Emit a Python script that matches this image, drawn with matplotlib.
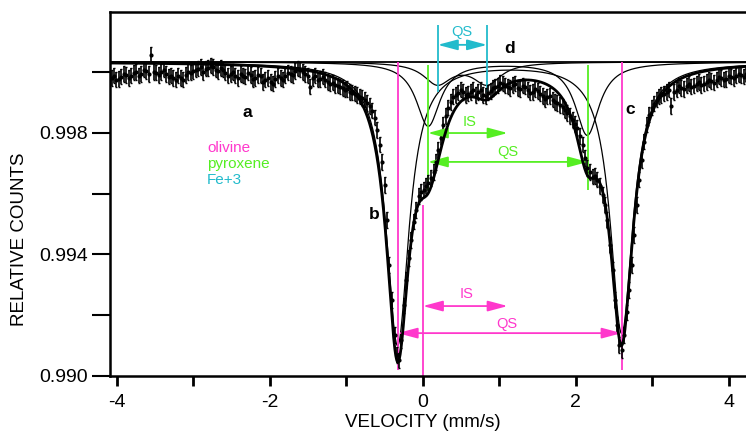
import numpy as np
import matplotlib.pyplot as plt

plt.rcParams['font.family'] = ['Liberation Sans', 'DejaVu Sans']
plt.rcParams['axes.unicode_minus'] = False

# measured spectrum: velocity (mm/s), relative counts
vel = [-4.07, -4.04, -4.01, -3.975, -3.94, -3.91, -3.88, -3.845, -3.81, -3.78,
       -3.75, -3.715, -3.68, -3.65, -3.62, -3.585, -3.55, -3.52, -3.49, -3.455,
       -3.42, -3.39, -3.36, -3.325, -3.29, -3.26, -3.23, -3.195, -3.16, -3.13,
       -3.10, -3.065, -3.03, -3.00, -2.97, -2.935, -2.90, -2.87, -2.84, -2.805,
       -2.77, -2.74, -2.71, -2.675, -2.64, -2.61, -2.58, -2.545, -2.51, -2.48,
       -2.45, -2.415, -2.38, -2.35, -2.32, -2.285, -2.25, -2.22, -2.19, -2.155,
       -2.12, -2.09, -2.06, -2.025, -1.99, -1.96, -1.93, -1.895, -1.86, -1.83,
       -1.80, -1.765, -1.73, -1.70, -1.67, -1.635, -1.60, -1.57, -1.54, -1.505,
       -1.47, -1.44, -1.41, -1.375, -1.34, -1.31, -1.28, -1.245, -1.21, -1.18,
       -1.15, -1.115, -1.08, -1.05, -1.02, -0.985, -0.95, -0.92, -0.89, -0.855,
       -0.82, -0.79, -0.76, -0.725, -0.69, -0.66, -0.63, -0.595, -0.56, -0.53,
       -0.50, -0.47, -0.44, -0.405, -0.37, -0.34, -0.31, -0.28, -0.25, -0.215,
       -0.18, -0.15, -0.12, -0.085, -0.05, -0.02, 0.01, 0.04, 0.07, 0.105,
       0.14, 0.17, 0.20, 0.235, 0.27, 0.30, 0.33, 0.365, 0.40, 0.43,
       0.46, 0.495, 0.53, 0.56, 0.59, 0.625, 0.66, 0.69, 0.72, 0.755,
       0.79, 0.82, 0.85, 0.885, 0.92, 0.95, 0.98, 1.015, 1.05, 1.08,
       1.11, 1.145, 1.18, 1.21, 1.24, 1.275, 1.31, 1.34, 1.37, 1.405,
       1.44, 1.47, 1.50, 1.535, 1.57, 1.60, 1.63, 1.665, 1.70, 1.73,
       1.76, 1.795, 1.83, 1.86, 1.89, 1.925, 1.96, 1.99, 2.02, 2.055,
       2.09, 2.12, 2.15, 2.185, 2.22, 2.25, 2.28, 2.315, 2.35, 2.38,
       2.41, 2.445, 2.48, 2.51, 2.54, 2.57, 2.60, 2.635, 2.67, 2.70,
       2.73, 2.765, 2.80, 2.83, 2.86, 2.895, 2.93, 2.96, 2.99, 3.025,
       3.06, 3.09, 3.12, 3.155, 3.19, 3.22, 3.25, 3.285, 3.32, 3.35,
       3.38, 3.415, 3.45, 3.48, 3.51, 3.545, 3.58, 3.61, 3.64, 3.675,
       3.71, 3.74, 3.77, 3.805, 3.84, 3.87, 3.90, 3.935, 3.97, 4.00,
       4.03, 4.065, 4.10, 4.13, 4.16, 4.195, 4.23]
counts = [0.99980, 0.99987, 0.99974, 0.99977, 0.99984, 0.99993, 0.99990, 0.99980, 0.99987, 0.99997,
          1.00000, 0.99987, 0.99993, 1.00007, 1.00003, 0.99993, 1.00056, 1.00000, 0.99997, 0.99990,
          1.00000, 1.00007, 0.99993, 0.99984, 0.99987, 0.99980, 0.99974, 0.99987, 0.99980, 0.99974,
          0.99990, 1.00000, 0.99997, 1.00003, 1.00007, 1.00010, 1.00016, 1.00000, 1.00010, 1.00013,
          1.00020, 1.00016, 1.00007, 1.00003, 1.00013, 1.00007, 0.99997, 0.99987, 0.99993, 1.00000,
          0.99987, 0.99980, 0.99993, 0.99987, 0.99984, 0.99997, 0.99990, 0.99977, 0.99980, 0.99990,
          0.99987, 0.99967, 0.99974, 0.99980, 0.99967, 0.99961, 0.99977, 0.99987, 0.99980, 0.99974,
          0.99987, 0.99997, 0.99993, 0.99990, 1.00003, 1.00010, 1.00007, 1.00000, 0.99993, 0.99987,
          0.99951, 0.99980, 0.99987, 0.99974, 0.99977, 0.99984, 0.99974, 0.99967, 0.99961, 0.99964,
          0.99957, 0.99954, 0.99951, 0.99947, 0.99941, 0.99944, 0.99934, 0.99931, 0.99928, 0.99924,
          0.99918, 0.99914, 0.99908, 0.99898, 0.99888, 0.99872, 0.99849, 0.99809, 0.99760, 0.99704,
          0.99628, 0.99513, 0.99365, 0.99250, 0.99135, 0.99069, 0.99052, 0.99118, 0.99233, 0.99316,
          0.99388, 0.99447, 0.99507, 0.99546, 0.99592, 0.99605, 0.99612, 0.99625, 0.99635, 0.99651,
          0.99671, 0.99704, 0.99743, 0.99783, 0.99826, 0.99855, 0.99882, 0.99901, 0.99918, 0.99924,
          0.99931, 0.99941, 0.99934, 0.99924, 0.99928, 0.99934, 0.99941, 0.99924, 0.99934, 0.99941,
          0.99924, 0.99921, 0.99931, 0.99937, 0.99947, 0.99951, 0.99954, 0.99964, 0.99961, 0.99954,
          0.99951, 0.99947, 0.99957, 0.99961, 0.99947, 0.99944, 0.99954, 0.99951, 0.99941, 0.99931,
          0.99934, 0.99944, 0.99937, 0.99928, 0.99921, 0.99911, 0.99918, 0.99921, 0.99908, 0.99901,
          0.99898, 0.99891, 0.99885, 0.99875, 0.99865, 0.99855, 0.99842, 0.99829, 0.99816, 0.99789,
          0.99760, 0.99717, 0.99684, 0.99671, 0.99655, 0.99658, 0.99645, 0.99625, 0.99595, 0.99562,
          0.99513, 0.99431, 0.99349, 0.99250, 0.99168, 0.99102, 0.99085, 0.99135, 0.99210, 0.99283,
          0.99365, 0.99464, 0.99562, 0.99645, 0.99710, 0.99770, 0.99826, 0.99859, 0.99882, 0.99895,
          0.99908, 0.99918, 0.99924, 0.99928, 0.99934, 0.99941, 0.99888, 0.99934, 0.99941, 0.99954,
          0.99947, 0.99944, 0.99954, 0.99961, 0.99951, 0.99954, 0.99961, 0.99967, 0.99957, 0.99961,
          0.99967, 0.99974, 0.99970, 0.99964, 0.99974, 0.99984, 0.99980, 0.99974, 0.99977, 0.99987,
          0.99984, 0.99980, 0.99987, 0.99993, 0.99990, 0.99984, 0.99993]
err = 0.00025

# fitted doublets: line centres (mm/s), half widths, depths
baseline = 1.00033
oliv_pos = [-0.33, 2.60]
oliv_hw = [0.18, 0.18]
oliv_depth = [0.0093, 0.0089]
pyx_pos = [0.07, 2.15]
pyx_hw = [0.19, 0.19]
pyx_depth = [0.0021, 0.0024]
fe3_pos = [0.19, 0.84]
fe3_hw = [0.22, 0.22]
fe3_depth = [0.0007, 0.0007]

MAG = '#ff38cc'
GRN = '#55ee22'
CYN = '#22bbcc'


def lor(v, c, g, d):
    return d * g**2 / ((v - c)**2 + g**2)


def doublet(v, pos, hw, depth):
    return sum(lor(v, c, g, d) for c, g, d in zip(pos, hw, depth))


v = np.linspace(-4.09, 4.5, 1500)
oliv = doublet(v, oliv_pos, oliv_hw, oliv_depth)
pyx = doublet(v, pyx_pos, pyx_hw, pyx_depth)
fe3 = doublet(v, fe3_pos, fe3_hw, fe3_depth)

fig = plt.figure(figsize=(7.46, 4.32), dpi=100)
ax = fig.add_axes([110 / 746, 56 / 432, 657 / 746, 364 / 432])

ax.axhline(baseline, color='k', lw=1.3)
for comp in (oliv, pyx, fe3):
    ax.plot(v, baseline - comp, color='k', lw=0.9)
ax.errorbar(vel, counts, yerr=err, fmt='o', ms=2, color='k', ecolor='k',
            elinewidth=1.2, capsize=1.0, zorder=3)
ax.plot(v, baseline - oliv - pyx - fe3, color='k', lw=2.0, zorder=4)

# olivine markers
ax.vlines([oliv_pos[0], oliv_pos[1]], 0.9902, baseline, color=MAG, lw=1.3)
ax.vlines(0, 0.990, 0.99562, color=MAG, lw=1.3)
arr = dict(arrowstyle='<|-|>,head_length=0.6,head_width=0.16', lw=1.3,
           mutation_scale=20, shrinkA=0, shrinkB=0)
ax.annotate('', xy=(1.11, 0.99230), xytext=(0, 0.99230), arrowprops=dict(arr, color=MAG))
ax.annotate('', xy=(oliv_pos[1], 0.99141), xytext=(oliv_pos[0], 0.99141), arrowprops=dict(arr, color=MAG))
ax.text(0.575, 0.99270, 'IS', color=MAG, fontsize=10.5, ha='center', va='center')
ax.text(1.10, 0.99171, 'QS', color=MAG, fontsize=10.5, ha='center', va='center')

# pyroxene markers
ax.vlines([0.065, 2.16], 0.99612, 1.00023, color=GRN, lw=1.3)
ax.annotate('', xy=(1.11, 0.99799), xytext=(0.065, 0.99799), arrowprops=dict(arr, color=GRN))
ax.annotate('', xy=(2.16, 0.99704), xytext=(0.065, 0.99704), arrowprops=dict(arr, color=GRN))
ax.text(0.61, 0.99836, 'IS', color=GRN, fontsize=10.5, ha='center', va='center')
ax.text(1.11, 0.99737, 'QS', color=GRN, fontsize=10.5, ha='center', va='center')

# Fe3+ markers
ax.vlines([0.195, 0.84], 0.99934, 1.00155, color=CYN, lw=1.3)
ax.annotate('', xy=(0.84, 1.00089), xytext=(0.195, 1.00089), arrowprops=dict(arr, color=CYN))
ax.text(0.51, 1.00132, 'QS', color=CYN, fontsize=10.5, ha='center', va='center')

for s, x, y in [('a', -2.29, 0.99865), ('b', -0.64, 0.99530), ('c', 2.71, 0.99875), ('d', 1.14, 1.00076)]:
    ax.text(x, y, s, fontsize=12.5, fontweight='bold', ha='center', va='center')

ax.text(-2.82, 0.99750, 'olivine', color=MAG, fontsize=11, va='center')
ax.text(-2.82, 0.99697, 'pyroxene', color=GRN, fontsize=11, va='center')
ax.text(-2.82, 0.99645, 'Fe+3', color=CYN, fontsize=11, va='center')

ax.set_xlim(-4.09, 4.5)
ax.set_ylim(0.990, 1.00197)
ax.set_xticks([-4, -2, 0, 2, 4])
ax.set_xticks([-3, -1, 1, 3], minor=True)
ax.set_yticks([0.990, 0.994, 0.998])
ax.set_yticks([0.992, 0.996, 1.000], minor=True)
ax.set_yticklabels(['0.990', '0.994', '0.998'])
ax.tick_params(axis='y', which='both', direction='out', length=13, width=1.5, labelsize=14, pad=3)
ax.tick_params(axis='x', which='both', direction='out', length=7, width=2, labelsize=14, pad=6)
for sp in ax.spines.values():
    sp.set_linewidth(1.8)

ax.set_xlabel('VELOCITY (mm/s)', fontsize=13.5, va='center')
ax.xaxis.set_label_coords(0.476, -0.129)
ax.set_ylabel('RELATIVE COUNTS', fontsize=13.5, va='center')
ax.yaxis.set_label_coords(-0.1385, 0.376)

fig.savefig('out.png', dpi=100)
